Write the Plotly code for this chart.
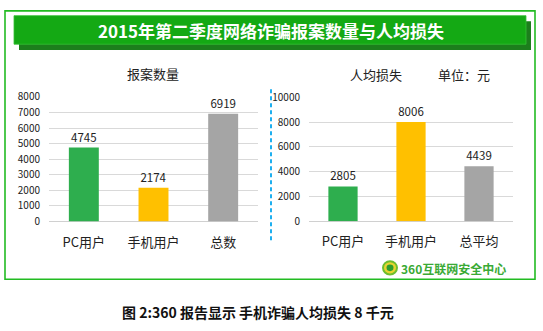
import plotly.graph_objects as go

W, H = 543, 331

# Data
cats_left = ["PC用户", "手机用户", "总数"]
vals_left = [4745, 2174, 6919]
cats_right = ["PC用户", "手机用户", "总平均"]
vals_right = [2805, 8006, 4439]
bar_colors = ["#2EAE4E", "#FFC000", "#A5A5A5"]
left_ticks = [0, 1000, 2000, 3000, 4000, 5000, 6000, 7000, 8000]
right_ticks = [0, 2000, 4000, 6000, 8000, 10000]

title_text = "2015年第二季度网络诈骗报案数量与人均损失"
sub_left = "报案数量"
sub_right = "人均损失"
unit_text = "单位：元"
logo_text = "360互联网安全中心"
caption = "图 2:360 报告显示 手机诈骗人均损失 8 千元"

FONT = "Noto Sans CJK SC"

def px(x):
    return x / W

def py(y):
    return 1 - y / H

fig = go.Figure()
fig.add_trace(go.Bar(
    x=cats_left, y=vals_left, marker=dict(color=bar_colors, line=dict(width=0)),
    text=[str(v) for v in vals_left], textposition="outside",
    textfont=dict(size=11.5, color="#222", family=FONT), cliponaxis=False,
    xaxis="x", yaxis="y", showlegend=False,
))
fig.add_trace(go.Bar(
    x=cats_right, y=vals_right, marker=dict(color=bar_colors, line=dict(width=0)),
    text=[str(v) for v in vals_right], textposition="outside",
    textfont=dict(size=11.5, color="#222", family=FONT), cliponaxis=False,
    xaxis="x2", yaxis="y2", showlegend=False,
))

axis_common = dict(showline=False, fixedrange=True)
fig.update_layout(
    width=W, height=H, margin=dict(l=0, r=0, t=0, b=0),
    paper_bgcolor="white", plot_bgcolor="rgba(0,0,0,0)",
    bargap=0.57, font=dict(family=FONT, color="#333"),
    xaxis=dict(domain=[px(49), px(258)], anchor="y", showgrid=False,
               tickfont=dict(size=13, color="#222"), ticks="", ticklabelstandoff=11, **axis_common),
    yaxis=dict(domain=[py(223.3), py(92.3)], anchor="x", range=[0, 8000],
               tickvals=left_ticks, ticktext=[str(t) for t in left_ticks],
               showgrid=True, gridcolor="#D9D9D9", gridwidth=1.2,
               zeroline=True, zerolinecolor="#D0D0D0", zerolinewidth=1.2,
               tickfont=dict(size=10, color="#222"), ticklabelstandoff=8, **axis_common),
    xaxis2=dict(domain=[px(309), px(513)], anchor="y2", showgrid=False,
                tickfont=dict(size=13, color="#222"), ticks="", ticklabelstandoff=11, **axis_common),
    yaxis2=dict(domain=[py(223), py(92.7)], anchor="x2", range=[0, 10000],
                tickvals=right_ticks, ticktext=[str(t) for t in right_ticks],
                showgrid=True, gridcolor="#D9D9D9", gridwidth=1.2,
                zeroline=True, zerolinecolor="#D0D0D0", zerolinewidth=1.2,
                tickfont=dict(size=10, color="#222"), ticklabelstandoff=8, **axis_common),
)

shapes = [
    # outer frame
    dict(type="rect", xref="paper", yref="paper", x0=px(5), x1=px(535), y0=py(284), y1=py(2),
         line=dict(color="#22BB22", width=1.6), fillcolor="rgba(0,0,0,0)", layer="below"),
    # title shadow
    dict(type="rect", xref="paper", yref="paper", x0=px(19), x1=px(531), y0=py(43), y1=py(13),
         line=dict(width=0), fillcolor="#1C7E1C", layer="below"),
    # title bar
    dict(type="rect", xref="paper", yref="paper", x0=px(14), x1=px(526), y0=py(37), y1=py(7),
         line=dict(color="#35C035", width=0.8), fillcolor="#14A914", layer="below"),
    # dashed divider
    dict(type="line", xref="paper", yref="paper", x0=px(271), x1=px(271), y0=py(243), y1=py(83),
         line=dict(color="#1EAFEF", width=2, dash="4px,3px")),
    # logo icon
    dict(type="circle", xref="paper", yref="paper", x0=px(383), x1=px(397), y0=py(279), y1=py(265),
         line=dict(color="#6DBE2E", width=2), fillcolor="#E8D430"),
    dict(type="circle", xref="paper", yref="paper", x0=px(386.5), x1=px(393.5), y0=py(275.5), y1=py(268.5),
         line=dict(width=0), fillcolor="#2E9E2E"),
]
fig.update_layout(shapes=shapes)

ann = [
    dict(text=f"<b>{title_text}</b>", x=px(271), y=py(22.5), font=dict(size=17, color="white", family=FONT)),
    dict(text=sub_left, x=px(153), y=py(68), font=dict(size=13, color="#222", family=FONT)),
    dict(text=sub_right, x=px(376), y=py(69), font=dict(size=13, color="#222", family=FONT)),
    dict(text=unit_text, x=px(464), y=py(69), font=dict(size=13, color="#222", family=FONT)),
    dict(text=f"<b>{logo_text}</b>", x=px(399), y=py(272.5), xanchor="left",
         font=dict(size=12, color="#3AAA35", family=FONT)),
    dict(text=f"<b>{caption}</b>", x=px(258), y=py(318), font=dict(size=14, color="#111", family=FONT)),
]
for a in ann:
    a.setdefault("xanchor", "center")
    a.update(xref="paper", yref="paper", yanchor="middle", showarrow=False)
fig.update_layout(annotations=ann)

fig.write_html("out.html")
